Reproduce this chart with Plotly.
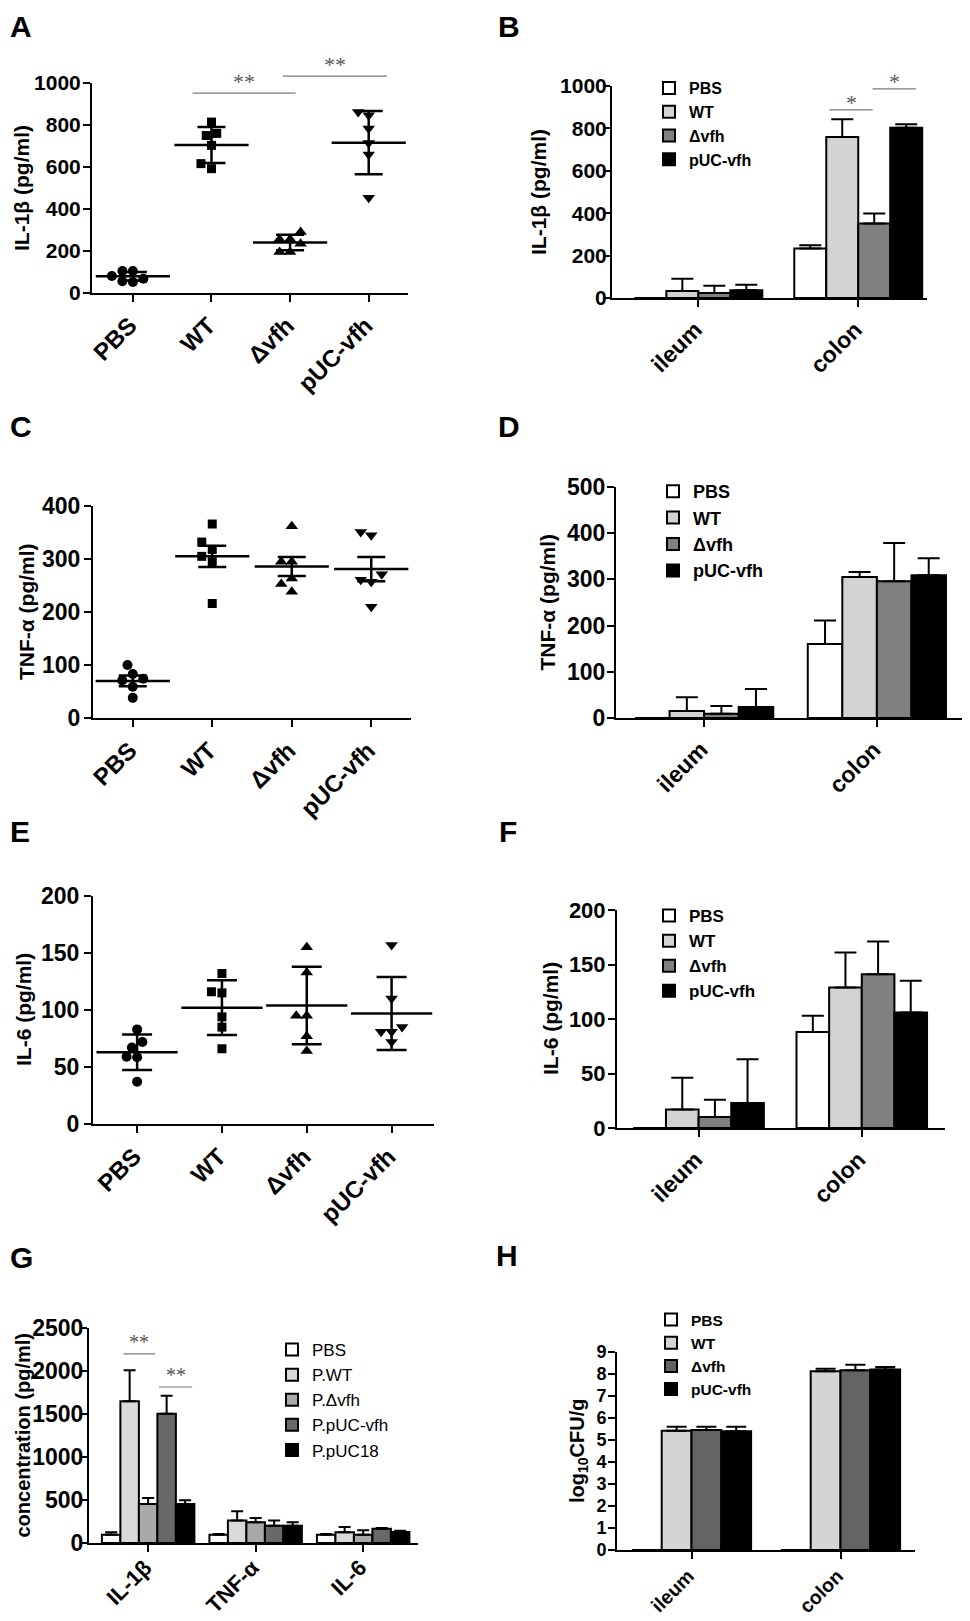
import plotly.graph_objects as go

# la página añade 8 px de margen al body: se compensa aquí
OFF = 8
W, H = 970 - OFF, 1621 - OFF
FONT = "Arial, 'Liberation Sans', sans-serif"
SERIF = "'Liberation Serif', 'Times New Roman', serif"

# ============================================================
# DATOS
# ============================================================
grupos = ["PBS", "WT", "Δvfh", "pUC-vfh"]
sitios = ["ileum", "colon"]
citocinas = ["IL-1β", "TNF-α", "IL-6"]
grupos_g = ["PBS", "P.WT", "P.Δvfh", "P.pUC-vfh", "P.pUC18"]

# A - IL-1β por animal
a_pbs = [68, 105, 105, 52, 56, 81]
a_wt = [592, 760, 750, 814, 703, 616]
a_dvfh = [290, 256, 235, 256, 195, 195]
a_puc = [862, 846, 783, 714, 660, 454]
a_media = [80, 705, 240, 716]
a_error = [20, 86, 37, 151]

# C - TNF-α por animal
c_pbs = [100, 83, 74, 71, 59, 38]
c_wt = [366, 332, 318, 305, 295, 216]
c_dvfh = [362, 295, 295, 263, 253, 238]
c_puc = [345, 351, 271, 261, 257, 210]
c_media = [70, 305, 286, 281]
c_error = [10, 20, 18, 23]

# E - IL-6 por animal
e_pbs = [83, 72, 67, 59, 58.5, 37]
e_wt = [132, 115, 116, 94, 85, 66]
e_dvfh = [155, 133, 95, 95, 77, 64]
e_puc = [157, 110, 85, 81, 81, 72]
e_media = [63, 102, 104, 97]
e_error = [15.6, 24, 34, 32]

# B - IL-1β por tejido (ileum, colon)
b_pbs = [0, 233]
b_wt = [33, 760]
b_dvfh = [24, 351]
b_puc = [36, 803]
b_pbs_err = [0, 16]
b_wt_err = [58, 83]
b_dvfh_err = [34, 47]
b_puc_err = [27, 17]

# D - TNF-α por tejido
d_pbs = [0, 160]
d_wt = [15, 305]
d_dvfh = [9, 296]
d_puc = [24, 309]
d_pbs_err = [0, 51]
d_wt_err = [30, 11]
d_dvfh_err = [17, 83]
d_puc_err = [39, 37]

# F - IL-6 por tejido
f_pbs = [0, 88]
f_wt = [17, 129]
f_dvfh = [10, 141]
f_puc = [23, 106]
f_pbs_err = [0, 15]
f_wt_err = [29, 32]
f_dvfh_err = [16, 30]
f_puc_err = [40, 29]

# G - concentración en peritoneo
g_pbs = [97, 97, 97]
g_wt = [1647, 263, 124]
g_dvfh = [453, 240, 97]
g_pucvfh = [1504, 202, 167]
g_puc18 = [453, 202, 128]
g_pbs_err = [27, 8, 8]
g_wt_err = [361, 105, 62]
g_dvfh_err = [70, 51, 50]
g_pucvfh_err = [209, 61, 7]
g_puc18_err = [43, 38, 15]

# H - log10 CFU/g
h_pbs = [0, 0]
h_wt = [5.42, 8.12]
h_dvfh = [5.45, 8.17]
h_puc = [5.4, 8.21]
h_pbs_err = [0, 0]
h_wt_err = [0.18, 0.12]
h_dvfh_err = [0.15, 0.25]
h_puc_err = [0.2, 0.11]

# ============================================================
# GEOMETRÍA DE LOS PANELES (px de la imagen)
# ============================================================
cajas = {
    1: (92, 408, 83, 293),     # A
    2: (612, 927, 86, 298),    # B
    3: (93, 411, 506, 718),    # C
    4: (616, 965, 487, 718),   # D
    5: (93, 434, 896, 1124),   # E
    6: (617, 945, 910, 1128),  # F
    7: (89, 418, 1328, 1543),  # G
    8: (617, 915, 1352, 1550), # H
}


def fx(px):
    return (px - OFF) / W


def fy(py):
    return 1 - (py - OFF) / H


fig = go.Figure()
layout = {}
anotaciones = []
formas = []


def ax_names(n):
    s = "" if n == 1 else str(n)
    return "x" + s, "y" + s, "xaxis" + s, "yaxis" + s


def ejes(n, xr, yr, dtick, ticktext, fsx, fsy, titulo, tx, tfs=21, ylen=7, ystand=-2,
         xstand=0):
    x0, x1, y0, y1 = cajas[n]
    xr_, yr_, xk, yk = ax_names(n)
    comun = dict(showline=True, linewidth=2, linecolor="black", ticks="outside",
                 tickwidth=2, tickcolor="black", showgrid=False, zeroline=False,
                 automargin=False)
    layout[xk] = dict(domain=[fx(x0), fx(x1)], range=xr, anchor=yr_, ticklen=7,
                      tickvals=list(range(len(ticktext))), ticktext=ticktext, tickangle=-45,
                      ticklabelshift=-3, ticklabelstandoff=xstand,
                      tickfont=dict(family=FONT, size=fsx, color="black", weight="bold"), **comun)
    layout[yk] = dict(domain=[fy(y1), fy(y0)], range=yr, anchor=xr_, dtick=dtick, tick0=0,
                      ticklen=ylen, ticklabelstandoff=ystand,
                      tickfont=dict(family=FONT, size=fsy, color="black", weight="bold"), **comun)
    anotaciones.append(dict(text=titulo, xref="paper", yref="paper", x=fx(tx),
                            y=fy((y0 + y1) / 2), textangle=-90, showarrow=False,
                            xanchor="center", yanchor="middle",
                            font=dict(family=FONT, size=tfs, color="black", weight="bold")))


def enjambre(vals, ymax, n, d=10.5):
    # desplazamientos horizontales sin solaparse (tipo beeswarm)
    x0, x1, y0, y1 = cajas[n]
    h_px = y1 - y0
    rango = layout[ax_names(n)[2]]["range"]
    unidad = (x1 - x0) / (rango[1] - rango[0])
    orden = sorted(range(len(vals)), key=lambda i: vals[i])
    puestos = []
    offs = [0.0] * len(vals)
    for i in orden:
        y = vals[i] / ymax * h_px
        k = 0
        elegido = None
        while elegido is None:
            cands = [0.0] if k == 0 else [-k * d / 2, k * d / 2]
            for c in cands:
                if all((c - px) ** 2 + (y - py) ** 2 >= (d * 0.95) ** 2 for px, py in puestos):
                    elegido = c
                    break
            k += 1
        puestos.append((elegido, y))
        offs[i] = elegido / unidad
    return offs


def panel_puntos(n, series, medias, errores, ymax, ancho_media, ancho_tapa):
    xr_, yr_, _, _ = ax_names(n)
    simbolos = [("circle", 10), ("square", 9), ("triangle-up", 11), ("triangle-down", 11)]
    for gi, vals in enumerate(series):
        offs = enjambre(vals, ymax, n)
        sym, size = simbolos[gi]
        fig.add_trace(go.Scatter(x=[gi + o for o in offs], y=vals, mode="markers",
                                 marker=dict(symbol=sym, size=size, color="black"),
                                 xaxis=xr_, yaxis=yr_, showlegend=False, cliponaxis=False))
        fig.add_trace(go.Scatter(x=[gi], y=[medias[gi]], mode="markers",
                                 marker=dict(symbol="line-ew", size=ancho_media,
                                             line=dict(width=2.5, color="black")),
                                 error_y=dict(type="data", array=[errores[gi]], color="black",
                                              thickness=2.5, width=ancho_tapa),
                                 xaxis=xr_, yaxis=yr_, showlegend=False, cliponaxis=False))


def panel_barras(n, nombres, series, errores, colores, leyenda, ancho_grupo=0.8, tapa=11):
    xr_, yr_, _, _ = ax_names(n)
    k = len(series)
    w = ancho_grupo / k
    for j in range(k):
        npts = len(series[j])
        fig.add_trace(go.Bar(
            x=list(range(npts)), y=series[j], width=w, offset=-ancho_grupo / 2 + j * w,
            marker=dict(color=colores[j], line=dict(color="black", width=2)),
            error_y=dict(type="data", array=errores[j], arrayminus=[0] * npts,
                         symmetric=False, color="black", thickness=2, width=tapa),
            name=nombres[j], legend=leyenda, xaxis=xr_, yaxis=yr_))


def significancia(n, xa, xb, y, texto, fs=22, sep=3):
    # línea gris con asteriscos encima; la altura se expresa sobre el dominio del eje y
    xr_, yr_, _, yk = ax_names(n)
    r0, r1 = layout[yk]["range"]
    yd = (y - r0) / (r1 - r0)
    formas.append(dict(type="line", xref=xr_, yref=yr_ + " domain", x0=xa, x1=xb, y0=yd, y1=yd,
                       line=dict(color="#7a7a7a", width=1.2)))
    anotaciones.append(dict(x=(xa + xb) / 2, y=yd, xref=xr_, yref=yr_ + " domain", text=texto,
                            showarrow=False, xanchor="center", yanchor="bottom", yshift=-sep,
                            font=dict(family=SERIF, size=fs, color="#555555")))


def leyenda_cfg(izq, arriba, fs, peso="bold"):
    return dict(x=fx(izq), y=fy(arriba), xanchor="left", yanchor="top",
                bgcolor="rgba(0,0,0,0)", tracegroupgap=0, traceorder="normal",
                font=dict(family=FONT, size=fs, color="black", weight=peso))


col4 = ["white", "#d3d3d3", "#808080", "black"]

# ============================================================
# PANELES
# ============================================================
# A
ejes(1, [-0.52, 3.5], [0, 1000], 200, grupos, 24, 21, "IL-1β (pg/ml)", 22, ystand=-2)
panel_puntos(1, [a_pbs, a_wt, a_dvfh, a_puc], a_media, a_error, 1000, 53, 14)
significancia(1, 0.76, 2.07, 952, "**")
significancia(1, 1.91, 3.23, 1033, "**")

# B
ejes(2, [-0.54, 1.43], [0, 1000], 200, sitios, 23, 21, "IL-1β (pg/ml)", 539, ylen=5, ystand=-6)
panel_barras(2, grupos, [b_pbs, b_wt, b_dvfh, b_puc],
             [b_pbs_err, b_wt_err, b_dvfh_err, b_puc_err], col4, "legend")
significancia(2, 0.82, 1.09, 887, "*", sep=7)
significancia(2, 1.09, 1.36, 986, "*", sep=7)

# C
ejes(3, [-0.5, 3.5], [0, 400], 100, grupos, 24, 23, "TNF-α (pg/ml)", 27, ystand=-1)
panel_puntos(3, [c_pbs, c_wt, c_dvfh, c_puc], c_media, c_error, 400, 53, 14)

# D
ejes(4, [-0.51, 1.51], [0, 500], 100, sitios, 23, 23, "TNF-α (pg/ml)", 547, ystand=-3)
panel_barras(4, grupos, [d_pbs, d_wt, d_dvfh, d_puc],
             [d_pbs_err, d_wt_err, d_dvfh_err, d_puc_err], col4, "legend2")

# E
ejes(5, [-0.52, 3.5], [0, 200], 50, grupos, 24, 23, "IL-6 (pg/ml)", 23, ystand=0)
panel_puntos(5, [e_pbs, e_wt, e_dvfh, e_puc], e_media, e_error, 200, 58, 15)

# F
ejes(6, [-0.5, 1.51], [0, 200], 50, sitios, 23, 22, "IL-6 (pg/ml)", 550, ystand=-2)
panel_barras(6, grupos, [f_pbs, f_wt, f_dvfh, f_puc],
             [f_pbs_err, f_wt_err, f_dvfh_err, f_puc_err], col4, "legend3")

# G
ejes(7, [-0.55, 2.51], [0, 2500], 500, citocinas, 22, 23, "concentration (pg/ml)", 22,
     tfs=20, ylen=5, ystand=-6, xstand=-6)
panel_barras(7, grupos_g, [g_pbs, g_wt, g_dvfh, g_pucvfh, g_puc18],
             [g_pbs_err, g_wt_err, g_dvfh_err, g_pucvfh_err, g_puc18_err],
             ["white", "#d9d9d9", "#a9a9a9", "#696969", "black"], "legend4",
             ancho_grupo=0.86, tapa=6)
significancia(7, -0.23, 0.065, 2198, "**", fs=20, sep=1)
significancia(7, 0.10, 0.41, 1814, "**", fs=20, sep=1)

# H
ejes(8, [-0.5, 1.5], [0, 9], 1, sitios, 19.5, 18, "log<sub>10</sub>CFU/g", 578, tfs=20,
     ystand=-2, xstand=-2)
panel_barras(8, grupos, [h_pbs, h_wt, h_dvfh, h_puc],
             [h_pbs_err, h_wt_err, h_dvfh_err, h_puc_err],
             ["white", "#d4d4d4", "#636363", "black"], "legend5", tapa=10)

# LETRAS DE PANEL
for letra, (lx, ly) in zip("ABCDEFGH", [(8, 8), (496, 8), (8, 408), (496, 408),
                                       (8, 813), (497, 813), (8, 1239), (494, 1237)]):
    anotaciones.append(dict(text=letra, xref="paper", yref="paper", x=fx(lx), y=fy(ly),
                            xanchor="left", yanchor="top", showarrow=False,
                            font=dict(family=FONT, size=30, color="black", weight="bold")))

fig.update_layout(
    width=W, height=H, margin=dict(l=0, r=0, t=0, b=0, autoexpand=False),
    paper_bgcolor="white", plot_bgcolor="white",
    barmode="overlay", font=dict(family=FONT, color="black"),
    legend=leyenda_cfg(649, 71, 16),
    legend2=leyenda_cfg(653, 473, 18),
    legend3=leyenda_cfg(649, 898, 17),
    legend4=leyenda_cfg(272, 1332, 17, "normal"),
    legend5=leyenda_cfg(651, 1303, 15.5),
    annotations=anotaciones,
    shapes=formas,
    **layout
)

fig.write_html("out.html")
